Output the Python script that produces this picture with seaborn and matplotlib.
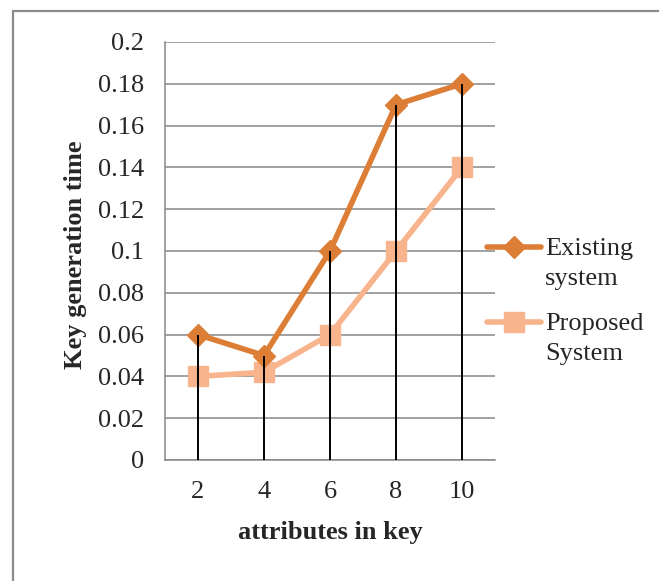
import matplotlib
matplotlib.use("Agg")
import matplotlib.pyplot as plt
from matplotlib.lines import Line2D
from matplotlib.patches import Rectangle
import numpy as np
import seaborn as sns

# Key generation time versus number of attributes in the key
attributes = [2, 4, 6, 8, 10]
existing_system = [0.06, 0.05, 0.10, 0.17, 0.18]
proposed_system = [0.04, 0.042, 0.06, 0.10, 0.14]
y_ticks = [0, 0.02, 0.04, 0.06, 0.08, 0.1, 0.12, 0.14, 0.16, 0.18, 0.2]
y_tick_labels = ["0", "0.02", "0.04", "0.06", "0.08", "0.1", "0.12", "0.14", "0.16", "0.18", "0.2"]
legend_labels = ["Existing\nsystem", "Proposed\nSystem"]

sns.set_style("white")
plt.rcParams["font.family"] = ["Liberation Serif", "DejaVu Serif"]

W, H = 659, 581
FS = 19
ORANGE = "#DD7E36"
PEACH = "#F8B48C"
GRID = "#878787"
LW = 4.0
DIAMOND_MS = 11
SQUARE_MS = 14.5

fig = plt.figure(figsize=(W / 100, H / 100), dpi=100)
ax = fig.add_axes([165 / W, 1 - 460 / H, 330 / W, 418 / H])

sns.lineplot(x=attributes, y=existing_system, ax=ax, color=ORANGE, lw=LW,
             marker="D", markersize=DIAMOND_MS, markeredgecolor=ORANGE,
             markeredgewidth=1, zorder=4)
sns.lineplot(x=attributes, y=proposed_system, ax=ax, color=PEACH, lw=LW,
             marker="s", markersize=SQUARE_MS, markeredgecolor=PEACH,
             markeredgewidth=1, zorder=3)

# drop lines from the axis to the higher of the two series
tops = np.maximum(existing_system, proposed_system)
ax.vlines(attributes, 0, tops, color="black", lw=1.4, zorder=5)

ax.set_xlim(1, 11)
ax.set_ylim(0, 0.2)
ax.set_xticks(attributes)
ax.set_xticklabels([str(a) for a in attributes])
ax.set_yticks(y_ticks)
ax.set_yticklabels(y_tick_labels)
ax.tick_params(axis="y", length=5, width=1.1, color=GRID, pad=10, labelsize=FS)
ax.tick_params(axis="x", length=0, pad=15, labelsize=FS)
ax.yaxis.grid(True, color=GRID, lw=1.1, zorder=0)
ax.set_axisbelow(True)
for side in ["top", "right"]:
    ax.spines[side].set_visible(False)
for side in ["left", "bottom"]:
    ax.spines[side].set_color(GRID)
    ax.spines[side].set_linewidth(1.1)

ax.set_xlabel("attributes in key", fontsize=FS, fontweight="bold", va="baseline")
ax.xaxis.set_label_coords(0.5, (460 - 539) / 418)
ax.set_ylabel("Key generation time", fontsize=FS, fontweight="bold", va="center")
ax.yaxis.set_label_coords((76 - 165) / 330, 0.49)

# legend on the right: handle beside the first line of each label
for (label, color, marker, ms, y_line) in [
    (legend_labels[0], ORANGE, "D", DIAMOND_MS, 247),
    (legend_labels[1], PEACH, "s", SQUARE_MS, 322),
]:
    fy = 1 - y_line / H
    fig.add_artist(Line2D([487 / W, 541 / W], [fy, fy], color=color, lw=LW,
                          solid_capstyle="round", transform=fig.transFigure))
    fig.add_artist(Line2D([514 / W], [fy], color=color, marker=marker,
                          markersize=ms, markeredgecolor=color, lw=0,
                          transform=fig.transFigure))
    first, second = label.split("\n")
    fig.text(545 / W, 1 - (y_line + 8) / H, first, fontsize=FS, va="baseline", ha="left")
    fig.text(545 / W, 1 - (y_line + 38) / H, second, fontsize=FS, va="baseline", ha="left")

# chart frame
fig.add_artist(Rectangle((12.5 / W, -0.1), 1.2, 1 - 11 / H + 0.1, fill=False,
                         edgecolor="#8C8C8C", lw=1.6, transform=fig.transFigure))

fig.savefig("out.png", dpi=100)
